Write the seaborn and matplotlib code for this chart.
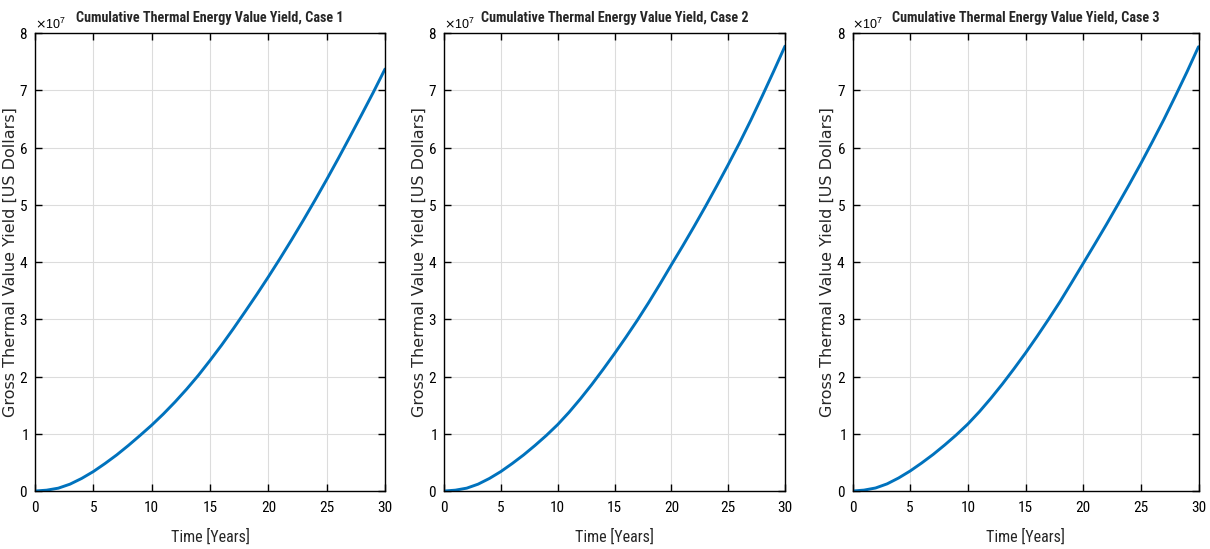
import numpy as np
import pandas as pd
import matplotlib
matplotlib.use("Agg")
import matplotlib.pyplot as plt
from matplotlib import font_manager as fm
import seaborn as sns

# Datos (unidades de 1e7 USD)
years = list(range(0, 31))
case_1 = [0, 0.015, 0.05, 0.12, 0.22, 0.34, 0.48, 0.63, 0.795, 0.97, 1.15,
          1.345, 1.555, 1.78, 2.02, 2.28, 2.55, 2.835, 3.13, 3.43, 3.74,
          4.06, 4.39, 4.73, 5.08, 5.44, 5.81, 6.19, 6.575, 6.965, 7.37]
case_2 = [0, 0.015, 0.05, 0.12, 0.22, 0.34, 0.48, 0.63, 0.795, 0.97, 1.16,
          1.375, 1.61, 1.86, 2.125, 2.40, 2.685, 2.98, 3.29, 3.615, 3.95,
          4.28, 4.62, 4.97, 5.33, 5.70, 6.08, 6.48, 6.90, 7.33, 7.77]
case_3 = [0, 0.016, 0.053, 0.125, 0.228, 0.35, 0.49, 0.64, 0.805, 0.98, 1.17,
          1.385, 1.62, 1.87, 2.135, 2.41, 2.70, 3.00, 3.31, 3.64, 3.975,
          4.31, 4.65, 5.00, 5.355, 5.72, 6.10, 6.49, 6.90, 7.32, 7.76]
case_names = ["Case 1", "Case 2", "Case 3"]
x_ticks = [0, 5, 10, 15, 20, 25, 30]
y_ticks = [0, 1, 2, 3, 4, 5, 6, 7, 8]


def buscar_fuente_estrecha():
    # MATLAB exporta el texto muy estrecho; buscamos una variante condensada
    fuentes = fm.fontManager.ttflist
    for fam in ["Liberation Sans Narrow", "Roboto Condensed",
                "Open Sans Condensed", "Arimo Narrow"]:
        if any(f.name == fam for f in fuentes):
            return [fam, "DejaVu Sans"], "normal"
    for fam in ["Roboto", "Noto Sans", "Open Sans", "DejaVu Sans"]:
        if any(f.name == fam and "condensed" in str(f.stretch) for f in fuentes):
            return [fam, "DejaVu Sans"], "condensed"
    return ["Liberation Sans", "DejaVu Sans"], "normal"


sns.set_theme(style="ticks")
narrow, stretch = buscar_fuente_estrecha()
regular = ["Liberation Sans", "DejaVu Sans"]
plt.rcParams["font.family"] = narrow
plt.rcParams["font.stretch"] = stretch

df = pd.DataFrame({
    "year": years * 3,
    "value": np.array(case_1 + case_2 + case_3) * 1e7,
    "case": sum([[c] * len(years) for c in case_names], []),
})

fig = plt.figure(figsize=(12.1, 5.49), dpi=100)
posiciones = [
    [35 / 1210, 0.1056, 350 / 1210, 0.8343],
    [444 / 1210, 0.1056, 341 / 1210, 0.8343],
    [852.5 / 1210, 0.1056, 346 / 1210, 0.8343],
]

for pos, nombre in zip(posiciones, case_names):
    ax = fig.add_axes(pos)
    sns.lineplot(data=df[df["case"] == nombre], x="year", y="value",
                 color="#0072BD", linewidth=2.1, ax=ax, legend=False)
    ax.set_xlim(0, 30)
    ax.set_ylim(0, 8e7)
    ax.set_xticks(x_ticks)
    ax.set_yticks([v * 1e7 for v in y_ticks])
    ax.ticklabel_format(axis="y", style="sci", scilimits=(7, 7), useMathText=True)
    off = ax.yaxis.get_offset_text()
    off.set_fontsize(9)
    off.set_color("#404040")
    off.set_family(regular)
    off.set_stretch("normal")
    ax.grid(True, color="#dcdcdc", linewidth=0.8)
    ax.tick_params(direction="in", top=True, right=True, length=5, width=1,
                   labelsize=11, colors="black", pad=5)
    ax.tick_params(axis="x", pad=7)
    for s in ax.spines.values():
        s.set_visible(True)
        s.set_color("black")
        s.set_linewidth(1.0)
    ax.set_title(f"Cumulative Thermal Energy Value Yield, {nombre}",
                 fontsize=10.2, fontweight="bold", y=1.0, pad=8)
    ax.set_xlabel("Time [Years]", fontsize=11.5, labelpad=10)
    ax.set_ylabel("Gross Thermal Value Yield [US Dollars]", fontsize=11.5,
                  family=["DejaVu Sans"], stretch="normal")
    ax.yaxis.set_label_coords(-0.05, 0.5)

fig.savefig("out.png", dpi=100)
